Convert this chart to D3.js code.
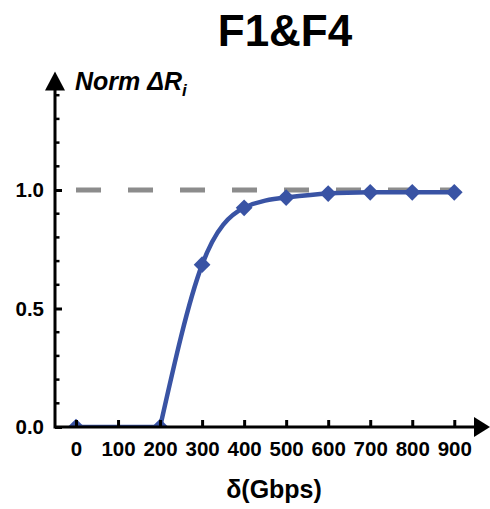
<!DOCTYPE html>
<html><head><meta charset="utf-8">
<script src="https://cdn.jsdelivr.net/npm/d3@7"></script>
<style>html,body{margin:0;padding:0;background:#fff;}svg{display:block;}</style>
</head><body>
<svg id="c" width="490" height="509"></svg>
<script>
const title = "F1&F4";
const xLabel = "δ(Gbps)";
const xValues = [0, 200, 300, 400, 500, 600, 700, 800, 900];
const yValues = [0, 0, 0.685, 0.925, 0.968, 0.985, 0.99, 0.99, 0.99];
const xTicks = [0, 100, 200, 300, 400, 500, 600, 700, 800, 900];
const yTicks = [0.0, 0.5, 1.0];
const yMinorTicks = [0.1,0.2,0.3,0.4,0.6,0.7,0.8,0.9,1.1,1.2,1.3,1.4];
const refValue = 1.0;

const svg = d3.select("#c");
const x = d3.scaleLinear().domain([-50, 985]).range([55, 490]);
const y = d3.scaleLinear().domain([0, 1.5]).range([427, 71.5]);
const font = "'Liberation Sans', Arial, sans-serif";
const blue = "#3953a4";

svg.append("defs").append("clipPath").attr("id","clip")
  .append("rect").attr("x", 0).attr("y", 0).attr("width", 490).attr("height", y(0));

// reference dashed line
svg.append("line")
  .attr("x1", x(0)).attr("x2", x(900)).attr("y1", y(refValue)).attr("y2", y(refValue))
  .attr("stroke", "#8c8c8c").attr("stroke-width", 5).attr("stroke-dasharray", "25,27");

const g = svg.append("g").attr("clip-path","url(#clip)");
const data = xValues.map((v,i)=>[v, yValues[i]]);
const line = d3.line().x(d=>x(d[0])).y(d=>y(d[1]));
g.append("path").datum(data.slice(0,2))
  .attr("d", line).attr("fill","none").attr("stroke", blue).attr("stroke-width", 4.5);
g.append("path").datum(data.slice(1))
  .attr("d", line.curve(d3.curveNatural))
  .attr("fill","none").attr("stroke", blue).attr("stroke-width", 4.5);
g.selectAll("path.m").data(data).join("path").attr("class","m")
  .attr("d", d3.symbol(d3.symbolSquare, 140)())
  .attr("transform", d=>`translate(${x(d[0])},${y(d[1])}) rotate(45)`)
  .attr("fill", blue);

// axes
const ax = svg.append("g").attr("stroke","#000").attr("stroke-width",3);
ax.append("line").attr("x1", x(-50)).attr("x2", x(965)).attr("y1", y(0)).attr("y2", y(0));
ax.append("line").attr("x1", x(-50)).attr("x2", x(-50)).attr("y1", y(0)+1.5).attr("y2", y(1.45));
svg.append("path").attr("d", `M${x(985)},${y(0)} L${x(985)-16},${y(0)-10} L${x(985)-16},${y(0)+10} Z`).attr("fill","#000");
svg.append("path").attr("d", `M${x(-50)},${y(1.5)} L${x(-50)-10},${y(1.5)+19} L${x(-50)+10},${y(1.5)+19} Z`).attr("fill","#000");

const xAxis = d3.axisBottom(x).tickValues(xTicks).tickSize(-7).tickPadding(14).tickFormat(d3.format("d"));
const xg = svg.append("g").attr("transform", `translate(0,${y(0)})`).call(xAxis);
xg.select(".domain").remove();
xg.selectAll(".tick line").attr("stroke-width", 3).attr("stroke","#000");
xg.selectAll(".tick text").attr("font-family", font).attr("font-weight","bold").attr("font-size", 20.5).attr("fill","#000");

const yAxis = d3.axisLeft(y).tickValues(yTicks).tickSize(-7).tickPadding(11).tickFormat(d3.format(".1f"));
const yg = svg.append("g").attr("transform", `translate(${x(-50)},0)`).call(yAxis);
yg.select(".domain").remove();
yg.selectAll(".tick line").attr("stroke-width", 3).attr("stroke","#000");
yg.selectAll(".tick text").attr("font-family", font).attr("font-weight","bold").attr("font-size", 20.5).attr("fill","#000");

svg.append("g").selectAll("line").data(yMinorTicks).join("line")
  .attr("x1", x(-50)).attr("x2", x(-50)+4.5).attr("y1", d=>y(d)).attr("y2", d=>y(d))
  .attr("stroke","#000").attr("stroke-width", 2.5);

// texts
svg.append("text").attr("x", 285).attr("y", 46).attr("text-anchor","middle")
  .attr("font-family", font).attr("font-weight","bold").attr("font-size", 44).text(title);
svg.append("text").attr("x", 274).attr("y", 498).attr("text-anchor","middle")
  .attr("font-family", font).attr("font-weight","bold").attr("font-size", 25).text(xLabel);
const yl = svg.append("text").attr("x", 75).attr("y", 90)
  .attr("font-family", font).attr("font-weight","bold").attr("font-style","italic").attr("font-size", 25);
yl.append("tspan").text("Norm ΔR");
yl.append("tspan").attr("dy", 6).attr("font-size", 17).text("i");
</script>
</body></html>
